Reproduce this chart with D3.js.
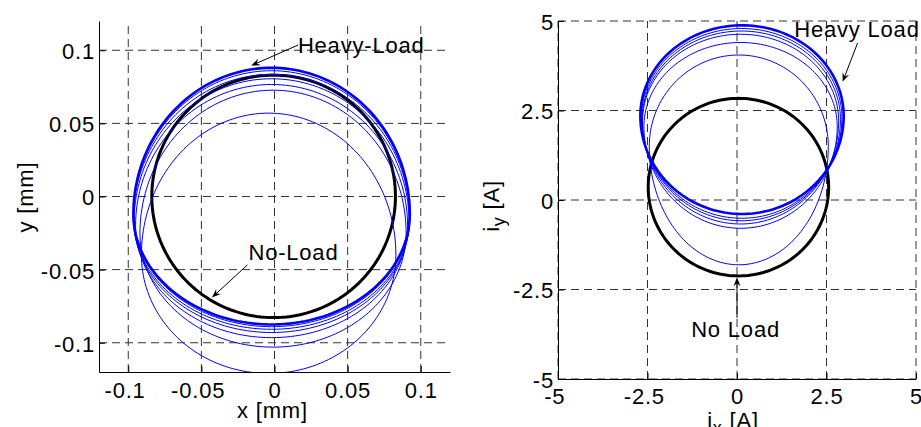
<!DOCTYPE html>
<html>
<head>
<meta charset="utf-8">
<script src="https://cdn.jsdelivr.net/npm/d3@7/dist/d3.min.js"></script>
<style>
body { margin: 0; background: #fff; }
svg text { font-family: "Liberation Sans", Arial, Helvetica, sans-serif; font-size: 22px; letter-spacing: 0.8px; fill: #000; }
</style>
</head>
<body>
<div id="chart"></div>
<script>
// orbit loops, each one is [cx, cy, rx, top, bottom]
// orbit loops, each one is [cx, cy, rx, top, bottom]

var dispTicks = [-0.1, -0.05, 0, 0.05, 0.1];
var dispTickLabels = ["-0.1", "-0.05", "0", "0.05", "0.1"];
var dispNoLoad = [
    [-0.0006, 0.0001, 0.0833, 0.0830, -0.0828]
];
var dispHeavyLoad = [
    [-0.004, -0.040, 0.087, 0.0570, -0.1210],
    [-0.001, -0.025, 0.091, 0.0727, -0.1030],
    [-0.002, -0.020, 0.093, 0.0766, -0.0965],
    [-0.002, -0.017, 0.094, 0.0805, -0.0930],
    [-0.002, -0.015, 0.0945, 0.0835, -0.0908],
    [-0.002, -0.013, 0.0945, 0.0860, -0.0890],
    [-0.002, -0.012, 0.0945, 0.0880, -0.0875]
];

var currTicks = [-5, -2.5, 0, 2.5, 5];
var currTickLabels = ["-5", "-2.5", "0", "2.5", "5"];
var currNoLoad = [
    [0.04, 0.36, 2.52, 2.84, -2.12]
];
var currHeavyLoad = [
    [0.05, 1.50, 2.50, 4.05, -1.81],
    [0.10, 2.05, 2.70, 4.40, -0.79],
    [0.10, 2.20, 2.74, 4.63, -0.67],
    [0.12, 2.25, 2.77, 4.72, -0.58],
    [0.13, 2.30, 2.80, 4.79, -0.51],
    [0.14, 2.35, 2.84, 4.88, -0.39]
];

var svg = d3.select("#chart").append("svg")
    .attr("width", 921)
    .attr("height", 427);

// function draws one orbit panel
// function draws one orbit panel

function orbitPanel(cfg)
{
    var x = d3.scaleLinear().domain(cfg.domain).range([cfg.left, cfg.right]);
    var y = d3.scaleLinear().domain(cfg.domain).range([cfg.bottom, cfg.top]);

    var g = svg.append("g");

    g.append("clipPath").attr("id", cfg.id)
        .append("rect")
        .attr("x", cfg.left).attr("y", cfg.top)
        .attr("width", cfg.right - cfg.left)
        .attr("height", cfg.bottom - cfg.top);

    // dashed grid
    // dashed grid

    g.selectAll(".gx").data(cfg.ticks).enter().append("line")
        .attr("x1", function(d) { return x(d); })
        .attr("x2", function(d) { return x(d); })
        .attr("y1", cfg.bottom).attr("y2", cfg.top)
        .attr("stroke", "#333").attr("stroke-dasharray", "8,5");

    g.selectAll(".gy").data(cfg.ticks).enter().append("line")
        .attr("y1", function(d) { return y(d); })
        .attr("y2", function(d) { return y(d); })
        .attr("x1", cfg.left).attr("x2", cfg.right)
        .attr("stroke", "#333").attr("stroke-dasharray", "8,5");

    // the loops
    // the loops

    var angles = d3.range(0, 360, 2);
    var line = d3.line().curve(d3.curveLinearClosed);

    function loopPath(l)
    {
        return line(angles.map(function(a) {
            var t = a * Math.PI / 180, s = Math.sin(t);
            var ry = s >= 0 ? l[3] - l[1] : l[1] - l[4];
            return [x(l[0] + l[2] * Math.cos(t)), y(l[1] + ry * s)];
        }));
    }

    var curves = g.append("g").attr("clip-path", "url(#" + cfg.id + ")");

    curves.selectAll(".noload").data(cfg.noLoad).enter().append("path")
        .attr("d", loopPath)
        .attr("fill", "none").attr("stroke", "#000").attr("stroke-width", 3);

    curves.selectAll(".heavy").data(cfg.heavyLoad).enter().append("path")
        .attr("d", loopPath)
        .attr("fill", "none").attr("stroke", "#0000ff")
        .attr("stroke-width", function(d, i) { return i == cfg.heavyLoad.length - 1 ? 2.6 : 1; });

    // axes
    // axes

    var xAxis = g.append("g")
        .attr("transform", "translate(0," + cfg.bottom + ")")
        .call(d3.axisBottom(x).tickValues(cfg.ticks)
            .tickFormat(function(d, i) { return cfg.labels[i]; })
            .tickSizeInner(-6).tickSizeOuter(0).tickPadding(cfg.xPad));
    xAxis.selectAll("text")
        .attr("dx", function(d) { return d < 0 ? "-3.7px" : null; });

    var yAxis = g.append("g")
        .attr("transform", "translate(" + cfg.left + ",0)")
        .call(d3.axisLeft(y).tickValues(cfg.ticks)
            .tickFormat(function(d, i) { return cfg.labels[i]; })
            .tickSizeInner(-6).tickSizeOuter(0).tickPadding(4));
    yAxis.selectAll("text").attr("dy", "0.38em");

    g.selectAll(".domain").attr("stroke", "#000");
    g.selectAll(".tick line").attr("stroke", "#000");

    // annotations with arrows
    // annotations with arrows

    cfg.notes.forEach(function(n) {
        g.append("text")
            .attr("x", x(n.tx)).attr("y", y(n.ty))
            .text(n.text);

        var x1 = x(n.from[0]), y1 = y(n.from[1]), x2 = x(n.to[0]), y2 = y(n.to[1]);
        var len = Math.sqrt((x2 - x1) * (x2 - x1) + (y2 - y1) * (y2 - y1));
        var ux = (x2 - x1) / len, uy = (y2 - y1) / len;
        var L = 9, w = 3.5;

        g.append("line")
            .attr("x1", x1).attr("y1", y1)
            .attr("x2", x2 - ux * 5).attr("y2", y2 - uy * 5)
            .attr("stroke", "#000").attr("stroke-width", 1);

        g.append("path")
            .attr("d", "M" + x2 + "," + y2 +
                "L" + (x2 - L * ux - w * uy) + "," + (y2 - L * uy + w * ux) +
                "L" + (x2 - 0.65 * L * ux) + "," + (y2 - 0.65 * L * uy) +
                "L" + (x2 - L * ux + w * uy) + "," + (y2 - L * uy - w * ux) + "Z")
            .attr("fill", "#000");
    });

    return { x: x, y: y };
}

orbitPanel({
    id: "clipDisp",
    left: 99, right: 450, top: 21, bottom: 372,
    domain: [-0.12, 0.12],
    ticks: dispTicks, labels: dispTickLabels,
    noLoad: dispNoLoad, heavyLoad: dispHeavyLoad,
    xPad: 10,
    notes: [
        { text: "Heavy-Load", tx: 0.016, ty: 0.0983, from: [0.0162, 0.1036], to: [-0.0159, 0.0895] },
        { text: "No-Load", tx: -0.0178, ty: -0.0434, from: [-0.0185, -0.0468], to: [-0.0428, -0.0691] }
    ]
});

orbitPanel({
    id: "clipCurr",
    left: 558, right: 916, top: 21, bottom: 379,
    domain: [-5, 5],
    ticks: currTicks, labels: currTickLabels,
    noLoad: currNoLoad, heavyLoad: currHeavyLoad,
    xPad: 9,
    notes: [
        { text: "Heavy Load", tx: 1.6, ty: 4.54, from: [3.37, 4.39], to: [2.95, 3.30] },
        { text: "No Load", tx: -1.28, ty: -3.83, from: [0, -3.29], to: [0, -2.16] }
    ]
});

// axis titles
// axis titles

svg.append("text")
    .attr("x", 272.5).attr("y", 418)
    .attr("text-anchor", "middle")
    .text("x [mm]");

svg.append("text")
    .attr("transform", "translate(33,197) rotate(-90)")
    .attr("text-anchor", "middle")
    .text("y [mm]");

var iy = svg.append("text")
    .attr("transform", "translate(499,206) rotate(-90)")
    .attr("text-anchor", "middle");
iy.append("tspan").text("i");
iy.append("tspan").attr("dy", 6).style("font-size", "18px").text("y");
iy.append("tspan").attr("dy", -6).text(" [A]");

var ix = svg.append("text")
    .attr("x", 733).attr("y", 428)
    .attr("text-anchor", "middle");
ix.append("tspan").text("i");
ix.append("tspan").attr("dy", 6).style("font-size", "18px").text("x");
ix.append("tspan").attr("dy", -6).text(" [A]");
</script>
</body>
</html>
